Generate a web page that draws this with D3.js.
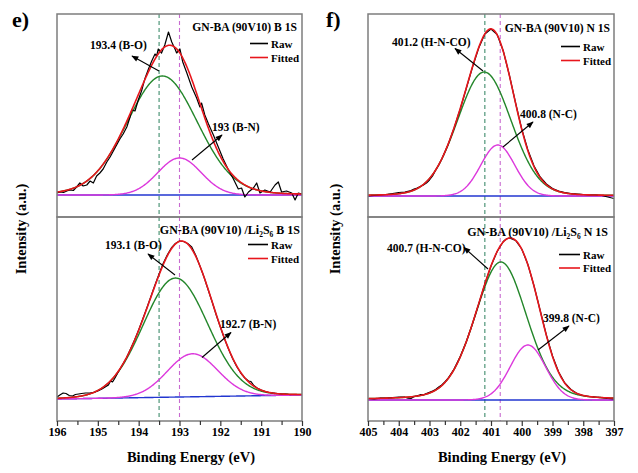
<!DOCTYPE html>
<html><head><meta charset="utf-8">
<script src="https://cdn.jsdelivr.net/npm/d3@7"></script>
<style>
body{margin:0;background:#fff}
svg text{font-family:'Liberation Serif','Times New Roman',Times,serif;font-weight:700;white-space:pre}
</style>
</head><body>
<svg id="c" width="638" height="473"></svg>
<script>
// ---------------- DATA ----------------
const leftDomain = [196, 190];
const rightDomain = [405, 397];
const leftTicks = [196, 195, 194, 193, 192, 191, 190];
const rightTicks = [405, 404, 403, 402, 401, 400, 399, 398, 397];
const leftDashes = [193.5, 193.0];
const rightDashes = [401.2, 400.7];

// top-left: GN-BA (90V10) B 1S
const tlRawE = [196.00,195.92,195.84,195.76,195.68,195.60,195.52,195.44,195.36,195.27,195.19,195.11,195.03,194.95,194.87,194.78,194.70,194.62,194.54,194.46,194.38,194.29,194.21,194.17,194.09,194.01,193.93,193.85,193.76,193.68,193.60,193.56,193.52,193.44,193.36,193.27,193.19,193.11,193.07,192.99,192.92,192.82,192.70,192.58,192.50,192.46,192.38,192.29,192.17,192.05,191.93,191.80,191.68,191.56,191.48,191.40,191.31,191.19,191.11,191.03,190.91,190.78,190.66,190.58,190.50,190.38,190.25,190.17,190.09,190.01];
const tlRawI = [2,3,2.5,4,5,4.5,8,12,9,10,14,12,19,22,26,33,38,44,50,56,61,68,78,85,84,95,104,116,126,134,141,139,146,142,150,163,153,146,142,146,133,122,108,97,88,92,80,71,60,48,36,25,16,6,7,-2,3,7,12,2,5,3,10,13,3,4,2,-5,2,1];
const tlCenter = [193.42, 193.0];
const tlHeight = [119, 37];
const tlFwhm = [2.05, 1.25];
const tlEta = [0.1, 0];
const tlBase = [0, 0];

// bottom-left: GN-BA (90V10)/Li2S6 B 1S
const blRawE = [196.00,195.93,195.85,195.78,195.70,195.62,195.55,195.47,195.40,195.30,195.20,195.10,195.00,194.90,194.82,194.74,194.69,194.64,194.58,194.50,194.40,194.30,194.20,194.10,194.00,193.90,193.80,193.70,193.60,193.50,193.40,193.30,193.20,193.10,193.00,192.90,192.80,192.70,192.60,192.50,192.40,192.30,192.20,192.10,192.00,191.90,191.80,191.70,191.60,191.50,191.40,191.31,191.25,191.18,191.10,191.00,190.90,190.80,190.70,190.60,190.50,190.40,190.30,190.20,190.10,190.00];
const blRawI = [2,4,6,5.5,3.5,3,4.5,5,5.5,6,6,6.5,8,10,12,14,18,17,21,27,34,41,50,59,69,80,91,102.5,114,125,135.5,144,151,155.5,158,157.5,155.5,152,143.5,133,122,109.5,97,84,72,60.5,50,40.5,32.5,26,21,18,17.5,13.5,11,9,7.5,6.5,6,5.5,5,5,4.5,4.5,4.5,4.5];
const blCenter = [193.1, 192.68];
const blHeight = [119, 43];
const blFwhm = [1.88, 1.45];
const blEta = [0.05, 0];
const blBase = [0, 4];

// top-right: GN-BA (90V10) N 1S
const trRawE = [405.0,404.8,404.6,404.4,404.2,404.0,403.8,403.6,403.5,403.4,403.3,403.2,403.1,403.0,402.9,402.8,402.7,402.6,402.4,402.2,402.0,401.8,401.6,401.4,401.2,401.0,400.8,400.6,400.4,400.2,400.0,399.8,399.6,399.4,399.2,399.0,398.8,398.6,398.4,398.2,398.0,397.8,397.6,397.4,397.2,397.0];
const trRawI = [0,0.5,1,1.5,2.5,3.5,4,5.5,7,8,9.5,11,13,16,20,26,31,37,51,68,87,108,129,148,162,167,161.5,145,120.5,93,67,46,30,19,12,7.5,5,3.5,2.5,2,1.5,1,1,0.5,-1,-2.5];
const trCenter = [401.22, 400.78];
const trHeight = [124, 51];
const trFwhm = [2.07, 1.3];
const trEta = [0.1, 0];
const trBase = [0, 0];

// bottom-right: GN-BA (90V10)/Li2S6 N 1S
const brRawE = [405.0,404.8,404.6,404.4,404.2,404.0,403.8,403.7,403.6,403.5,403.4,403.3,403.2,403.1,403.0,402.9,402.8,402.7,402.6,402.5,402.4,402.2,402.0,401.8,401.6,401.4,401.2,401.0,400.8,400.6,400.5,400.4,400.2,400.0,399.8,399.6,399.4,399.2,399.0,398.8,398.6,398.4,398.2,398.0,397.8,397.6,397.4,397.2,397.0];
const brRawI = [1.5,1.0,1.8,2.0,2.3,3.0,2.8,1.8,1.5,3.5,4.2,5.3,5.0,6.5,7.8,9.0,10.5,13,15,18,21.5,31,43.5,58.5,76.5,96,116,134,148.5,158.5,161,162,159.5,151,135.5,114,89.5,65,44,28,17,10.5,6.5,4.5,3.5,2.8,2.3,1.5,1.0];
const brCenter = [400.68, 399.8];
const brHeight = [138, 55];
const brFwhm = [2.0, 1.35];
const brEta = [0.2, 0];
const brBase = [0, 0];

const tlTitle = [["GN-BA (90V10) B 1S", 0]];
const blTitle = [["GN-BA (90V10) /Li", 0], ["2", 1], ["S", 0], ["6", 1], [" B 1S", 0]];
const trTitle = [["GN-BA (90V10) N 1S", 0]];
const brTitle = [["GN-BA (90V10) /Li", 0], ["2", 1], ["S", 0], ["6", 1], [" N 1S", 0]];
const tlLabels = ["193.4 (B-O)", "193 (B-N)"];
const blLabels = ["193.1 (B-O)", "192.7 (B-N)"];
const trLabels = ["401.2 (H-N-CO)", "400.8 (N-C)"];
const brLabels = ["400.7 (H-N-CO)", "399.8 (N-C)"];
const legendNames = ["Raw", "Fitted"];
const xTitle = "Binding Energy (eV)";
const yTitle = "Intensity (a.u.)";
const panelTags = ["e)", "f)"];

// ---------------- DRAWING ----------------
const FONT = "'Liberation Serif','Times New Roman',Times,serif";
const svg = d3.select("#c");
const defs = svg.append("defs");
defs.append("marker").attr("id", "arr").attr("viewBox", "0 0 10 10")
  .attr("refX", 9).attr("refY", 5).attr("markerWidth", 8).attr("markerHeight", 7)
  .attr("markerUnits", "userSpaceOnUse").attr("orient", "auto")
  .append("path").attr("d", "M0,1 L10,5 L0,9 Z").attr("fill", "#000");

const COL = {raw: "#000", fit: "#e8161c", c1: "#23862a", c2: "#dc38dc", base: "#2236d0",
             d1: "#3f8c6c", d2: "#c86ad0", frame: "#7d7d7d"};

const xL = d3.scaleLinear().domain(leftDomain).range([57, 302]);
const xR = d3.scaleLinear().domain(rightDomain).range([368, 614]);
const yTL = d3.scaleLinear().domain([-22, 181]).range([217, 14]);
const yBL = d3.scaleLinear().domain([-22, 182]).range([421, 217]);
const yTR = d3.scaleLinear().domain([-21, 182]).range([217, 14]);
const yBR = d3.scaleLinear().domain([-21, 183]).range([421, 217]);

function txt(sel) { return sel.attr("font-family", FONT).attr("font-weight", "bold"); }

// dashed reference lines across both sub-panels
function dashes(x, vals) {
  const cols = [COL.d1, COL.d2];
  vals.forEach((v, i) => {
    svg.append("line").attr("x1", x(v)).attr("x2", x(v)).attr("y1", 14).attr("y2", 421)
      .attr("stroke", cols[i]).attr("stroke-width", 1.1).attr("stroke-dasharray", "4,3");
  });
}
dashes(xL, leftDashes);
dashes(xR, rightDashes);

let clipN = 0;
function panel(p) {
  const x = p.x, y = p.y;
  const [x0, x1] = x.range(), [yb, yt] = y.range();
  const id = "clip" + (clipN++);
  defs.append("clipPath").attr("id", id).append("rect")
    .attr("x", x0).attr("y", yt).attr("width", x1 - x0).attr("height", yb - yt);
  const g = svg.append("g").attr("clip-path", `url(#${id})`);
  const dom = x.domain();
  const grid = d3.range(0, 401).map(i => dom[0] + (dom[1] - dom[0]) * i / 400);
  const base = e => p.base[0] + (p.base[1] - p.base[0]) * (e - dom[0]) / (dom[1] - dom[0]);
  const comp = (k, e) => {
    const d = e - p.c[k], r = 4 * d * d / (p.w[k] * p.w[k]);
    return p.h[k] * ((1 - p.eta[k]) * Math.exp(-Math.LN2 * r) + p.eta[k] / (1 + r));
  };
  const line = d3.line().x(d => x(d[0])).y(d => y(d[1]));
  g.append("path").attr("d", line(grid.map(e => [e, base(e)])))
    .attr("fill", "none").attr("stroke", COL.base).attr("stroke-width", 1.4);
  [COL.c1, COL.c2].forEach((col, k) => {
    g.append("path").attr("d", line(grid.map(e => [e, base(e) + comp(k, e)])))
      .attr("fill", "none").attr("stroke", col).attr("stroke-width", 1.4);
  });
  g.append("path").attr("d", line(p.E.map((e, i) => [e, p.I[i]])))
    .attr("fill", "none").attr("stroke", COL.raw).attr("stroke-width", 1.2).attr("stroke-linejoin", "round");
  g.append("path").attr("d", line(grid.map(e => [e, base(e) + comp(0, e) + comp(1, e)])))
    .attr("fill", "none").attr("stroke", COL.fit).attr("stroke-width", 1.6);

  // title
  const t = txt(svg.append("text")).attr("x", p.title.x).attr("y", p.title.y)
    .attr("text-anchor", "end").attr("font-size", p.title.size);
  let shifted = false;
  p.title.parts.forEach(([s, sub]) => {
    const ts = t.append("tspan").text(s);
    if (sub && !shifted) { ts.attr("dy", 3).attr("font-size", p.title.size * 0.62); shifted = true; }
    else if (!sub && shifted) { ts.attr("dy", -3); shifted = false; }
  });
  // legend
  [COL.raw, COL.fit].forEach((col, i) => {
    const ly = p.leg.y + i * p.leg.dy;
    svg.append("line").attr("x1", p.leg.x1).attr("x2", p.leg.x2).attr("y1", ly).attr("y2", ly)
      .attr("stroke", col).attr("stroke-width", 1.6);
    txt(svg.append("text")).attr("x", p.leg.x2 + 3).attr("y", ly + 4).attr("font-size", 11).text(legendNames[i]);
  });
  // annotations
  p.ann.forEach((a, i) => {
    txt(svg.append("text")).attr("x", a.tx).attr("y", a.ty).attr("font-size", 11.5).text(p.labels[i]);
    svg.append("line").attr("x1", a.x1).attr("y1", a.y1).attr("x2", a.x2).attr("y2", a.y2)
      .attr("stroke", "#000").attr("stroke-width", 1.1).attr("marker-end", "url(#arr)");
  });
  // frame
  svg.append("rect").attr("x", x0).attr("y", yt).attr("width", x1 - x0).attr("height", yb - yt)
    .attr("fill", "none").attr("stroke", COL.frame).attr("stroke-width", 1.5);
}

panel({x: xL, y: yTL, E: tlRawE, I: tlRawI, c: tlCenter, h: tlHeight, w: tlFwhm, eta: tlEta, base: tlBase,
  title: {x: 297, y: 31, size: 11.6, parts: tlTitle},
  leg: {x1: 250, x2: 268, y: 43.5, dy: 14},
  labels: tlLabels,
  ann: [{tx: 90, ty: 49, x1: 159, y1: 71, x2: 132, y2: 56},
        {tx: 212, ty: 131, x1: 192, y1: 160, x2: 222, y2: 135}]});
panel({x: xL, y: yBL, E: blRawE, I: blRawI, c: blCenter, h: blHeight, w: blFwhm, eta: blEta, base: blBase,
  title: {x: 300, y: 234, size: 12, parts: blTitle},
  leg: {x1: 248, x2: 268, y: 244.5, dy: 14},
  labels: blLabels,
  ann: [{tx: 105, ty: 249, x1: 175, y1: 275, x2: 148, y2: 254},
        {tx: 220, ty: 327.5, x1: 202, y1: 357.5, x2: 231, y2: 332.5}]});
panel({x: xR, y: yTR, E: trRawE, I: trRawI, c: trCenter, h: trHeight, w: trFwhm, eta: trEta, base: trBase,
  title: {x: 610, y: 32, size: 11.6, parts: trTitle},
  leg: {x1: 561, x2: 580, y: 46.5, dy: 14},
  labels: trLabels,
  ann: [{tx: 392, ty: 46, x1: 483, y1: 71, x2: 455, y2: 48.5},
        {tx: 520, ty: 117.5, x1: 503, y1: 147, x2: 533, y2: 122}]});
panel({x: xR, y: yBR, E: brRawE, I: brRawI, c: brCenter, h: brHeight, w: brFwhm, eta: brEta, base: brBase,
  title: {x: 608, y: 235.5, size: 12, parts: brTitle},
  leg: {x1: 559, x2: 580, y: 254.5, dy: 13.5},
  labels: brLabels,
  ann: [{tx: 387, ty: 251.5, x1: 488, y1: 269, x2: 464, y2: 247.5},
        {tx: 543, ty: 322, x1: 538, y1: 350, x2: 569, y2: 326}]});

// bottom axes with major and minor ticks
function bottomAxis(x, ticks) {
  const g = svg.append("g").attr("transform", "translate(0,421)");
  g.call(d3.axisBottom(x).tickValues(ticks).tickSize(5).tickPadding(1).tickFormat(d3.format("d")));
  const minors = ticks.slice(1).map((t, i) => (t + ticks[i]) / 2);
  g.append("g").call(d3.axisBottom(x).tickValues(minors).tickSize(4).tickFormat(""));
  g.selectAll(".domain").remove();
  g.selectAll("line").attr("stroke", "#333").attr("stroke-width", 1.2);
  g.attr("font-family", FONT);
  txt(g.selectAll("text")).attr("font-size", 12).attr("fill", "#000");
}
bottomAxis(xL, leftTicks);
bottomAxis(xR, rightTicks);

// axis titles
[191, 502].forEach(cx =>
  txt(svg.append("text")).attr("x", cx).attr("y", 462).attr("text-anchor", "middle").attr("font-size", 14.5).text(xTitle));
[21, 335].forEach(cx =>
  txt(svg.append("text")).attr("transform", `translate(${cx},229) rotate(-90)`).attr("text-anchor", "middle")
    .attr("dominant-baseline", "central").attr("font-size", 14.5).text(yTitle));
// panel tags
txt(svg.append("text")).attr("x", 12).attr("y", 27).attr("font-size", 22).text(panelTags[0]);
txt(svg.append("text")).attr("x", 326).attr("y", 27).attr("font-size", 22).text(panelTags[1]);
</script>
</body></html>
